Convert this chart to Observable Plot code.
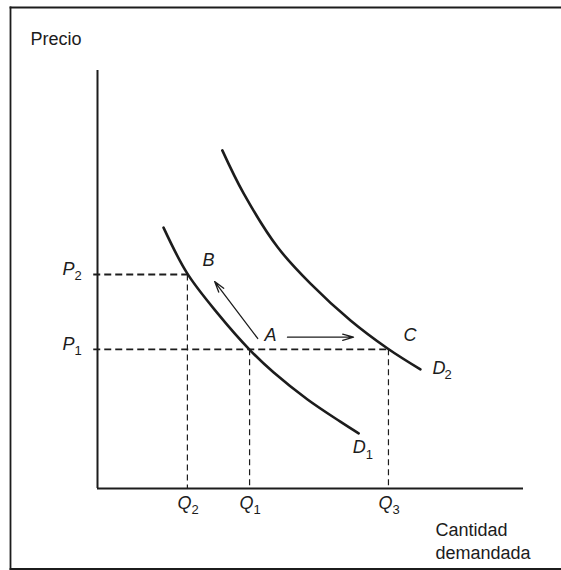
<!DOCTYPE html>
<html>
<head>
<meta charset="utf-8">
<script src="https://cdn.jsdelivr.net/npm/d3@7"></script>
<script src="https://cdn.jsdelivr.net/npm/@observablehq/plot@0.6"></script>
<style>
  html, body { margin: 0; padding: 0; background: #fff; }
</style>
</head>
<body>
<div id="chart"></div>
<script>
// Demand curves D1 and D2 (quantity, price)
const d1Q = [1.55, 2.11, 2.82, 3.59, 4.13, 4.93, 5.70, 6.13];
const d1P = [6.24, 5.14, 4.19, 3.30, 2.78, 2.13, 1.60, 1.32];
const d2Q = [2.93, 3.43, 4.23, 5.00, 5.94, 6.81, 7.58];
const d2P = [8.09, 7.06, 5.77, 4.90, 4.02, 3.35, 2.85];

// Quantity levels and labels
const qLabels = ["Q2", "Q1", "Q3"];
const qValues = [2.11, 3.57, 6.83];
const qFromP  = [5.12, 3.33, 3.33];

// Price levels and labels
const pLabels = ["P2", "P1"];
const pValues = [5.12, 3.33];
const pToQ    = [2.11, 6.83];

// Named points
const pointLabels = ["A", "B", "C"];
const pointQ = [3.57, 2.11, 6.83];
const pointP = [3.33, 5.12, 3.33];

// Movement arrows (tail -> head)
const arrowQ1 = [3.76, 4.46];
const arrowP1 = [3.59, 3.62];
const arrowQ2 = [2.75, 6.01];
const arrowP2 = [4.95, 3.62];

const axisMax = 10;
const ink = "#1c1c1c";
const font = "Liberation Sans, Arial, Helvetica, sans-serif";

const chart = Plot.plot({
  width: 561,
  height: 570,
  marginLeft: 10,
  marginTop: 7,
  marginRight: 0,
  marginBottom: 1.5,
  x: {domain: [0, axisMax], range: [97, 523], axis: null},
  y: {domain: [0, axisMax], range: [488, 70], axis: null},
  style: {fontFamily: font, background: "#fff", color: ink},
  marks: [
    // outer border: the right side is cut off in the reference
    Plot.frame({anchor: "top", stroke: ink, strokeWidth: 1.8}),
    Plot.frame({anchor: "left", stroke: ink, strokeWidth: 1.8}),
    Plot.frame({anchor: "bottom", stroke: ink, strokeWidth: 1.8}),
    // axes
    Plot.ruleX([0], {y1: 0, y2: axisMax, stroke: ink, strokeWidth: 2}),
    Plot.ruleY([0], {x1: 0, x2: axisMax, stroke: ink, strokeWidth: 2}),
    // horizontal dashed guides
    Plot.link(pValues, {x1: -0.1, y1: pValues, x2: pToQ, y2: pValues,
      stroke: ink, strokeWidth: 1.8, strokeDasharray: "7,4"}),
    // vertical dashed guides
    Plot.link(qValues, {x1: qValues, y1: qFromP, x2: qValues, y2: 0,
      stroke: ink, strokeWidth: 1.2, strokeDasharray: "6,4"}),
    // demand curves
    Plot.line(d1Q, {x: d1Q, y: d1P, curve: "catmull-rom", stroke: ink, strokeWidth: 2.6}),
    Plot.line(d2Q, {x: d2Q, y: d2P, curve: "catmull-rom", stroke: ink, strokeWidth: 2.6}),
    // arrows
    Plot.arrow(arrowQ1, {x1: arrowQ1, y1: arrowP1, x2: arrowQ2, y2: arrowP2,
      stroke: ink, strokeWidth: 1.3, headLength: 13, headAngle: 32}),
    // axis titles
    Plot.text(["Precio"], {x: 0, y: axisMax, dx: -67, dy: -26, text: d => d,
      textAnchor: "start", lineAnchor: "bottom", fontSize: 18, fill: ink}),
    Plot.text(["Cantidad"], {x: axisMax, y: 0, dx: -88, dy: 47, text: d => d,
      textAnchor: "start", lineAnchor: "bottom", fontSize: 18, fill: ink}),
    Plot.text(["demandada"], {x: axisMax, y: 0, dx: -88, dy: 70, text: d => d,
      textAnchor: "start", lineAnchor: "bottom", fontSize: 18, fill: ink}),
    // price labels
    Plot.text(pLabels, {x: 0, y: pValues, text: d => d[0], dx: -35, dy: 1,
      textAnchor: "start", lineAnchor: "bottom", fontSize: 18, fontStyle: "italic", fill: ink}),
    Plot.text(pLabels, {x: 0, y: pValues, text: d => d.slice(1), dx: -23, dy: 6,
      textAnchor: "start", lineAnchor: "bottom", fontSize: 13, fill: ink}),
    // quantity labels
    Plot.text(qLabels, {x: qValues, y: 0, text: d => d[0], dx: -10, dy: 20,
      textAnchor: "start", lineAnchor: "bottom", fontSize: 18, fontStyle: "italic", fill: ink}),
    Plot.text(qLabels, {x: qValues, y: 0, text: d => d.slice(1), dx: 4, dy: 25,
      textAnchor: "start", lineAnchor: "bottom", fontSize: 13, fill: ink}),
    // point labels
    Plot.text(pointLabels, {x: pointQ, y: pointP, text: d => d, dx: 15, dy: -8,
      textAnchor: "start", lineAnchor: "bottom", fontSize: 18, fontStyle: "italic", fill: ink}),
    // curve labels
    Plot.text(["D"], {x: d1Q[d1Q.length - 1], y: d1P[d1P.length - 1], text: d => d, dx: -6, dy: 20,
      textAnchor: "start", lineAnchor: "bottom", fontSize: 18, fontStyle: "italic", fill: ink}),
    Plot.text(["1"], {x: d1Q[d1Q.length - 1], y: d1P[d1P.length - 1], text: d => d, dx: 7, dy: 26,
      textAnchor: "start", lineAnchor: "bottom", fontSize: 13, fill: ink}),
    Plot.text(["D"], {x: d2Q[d2Q.length - 1], y: d2P[d2P.length - 1], text: d => d, dx: 12, dy: 5,
      textAnchor: "start", lineAnchor: "bottom", fontSize: 18, fontStyle: "italic", fill: ink}),
    Plot.text(["2"], {x: d2Q[d2Q.length - 1], y: d2P[d2P.length - 1], text: d => d, dx: 24, dy: 10,
      textAnchor: "start", lineAnchor: "bottom", fontSize: 13, fill: ink})
  ]
});

document.getElementById("chart").appendChild(chart);
</script>
</body>
</html>
